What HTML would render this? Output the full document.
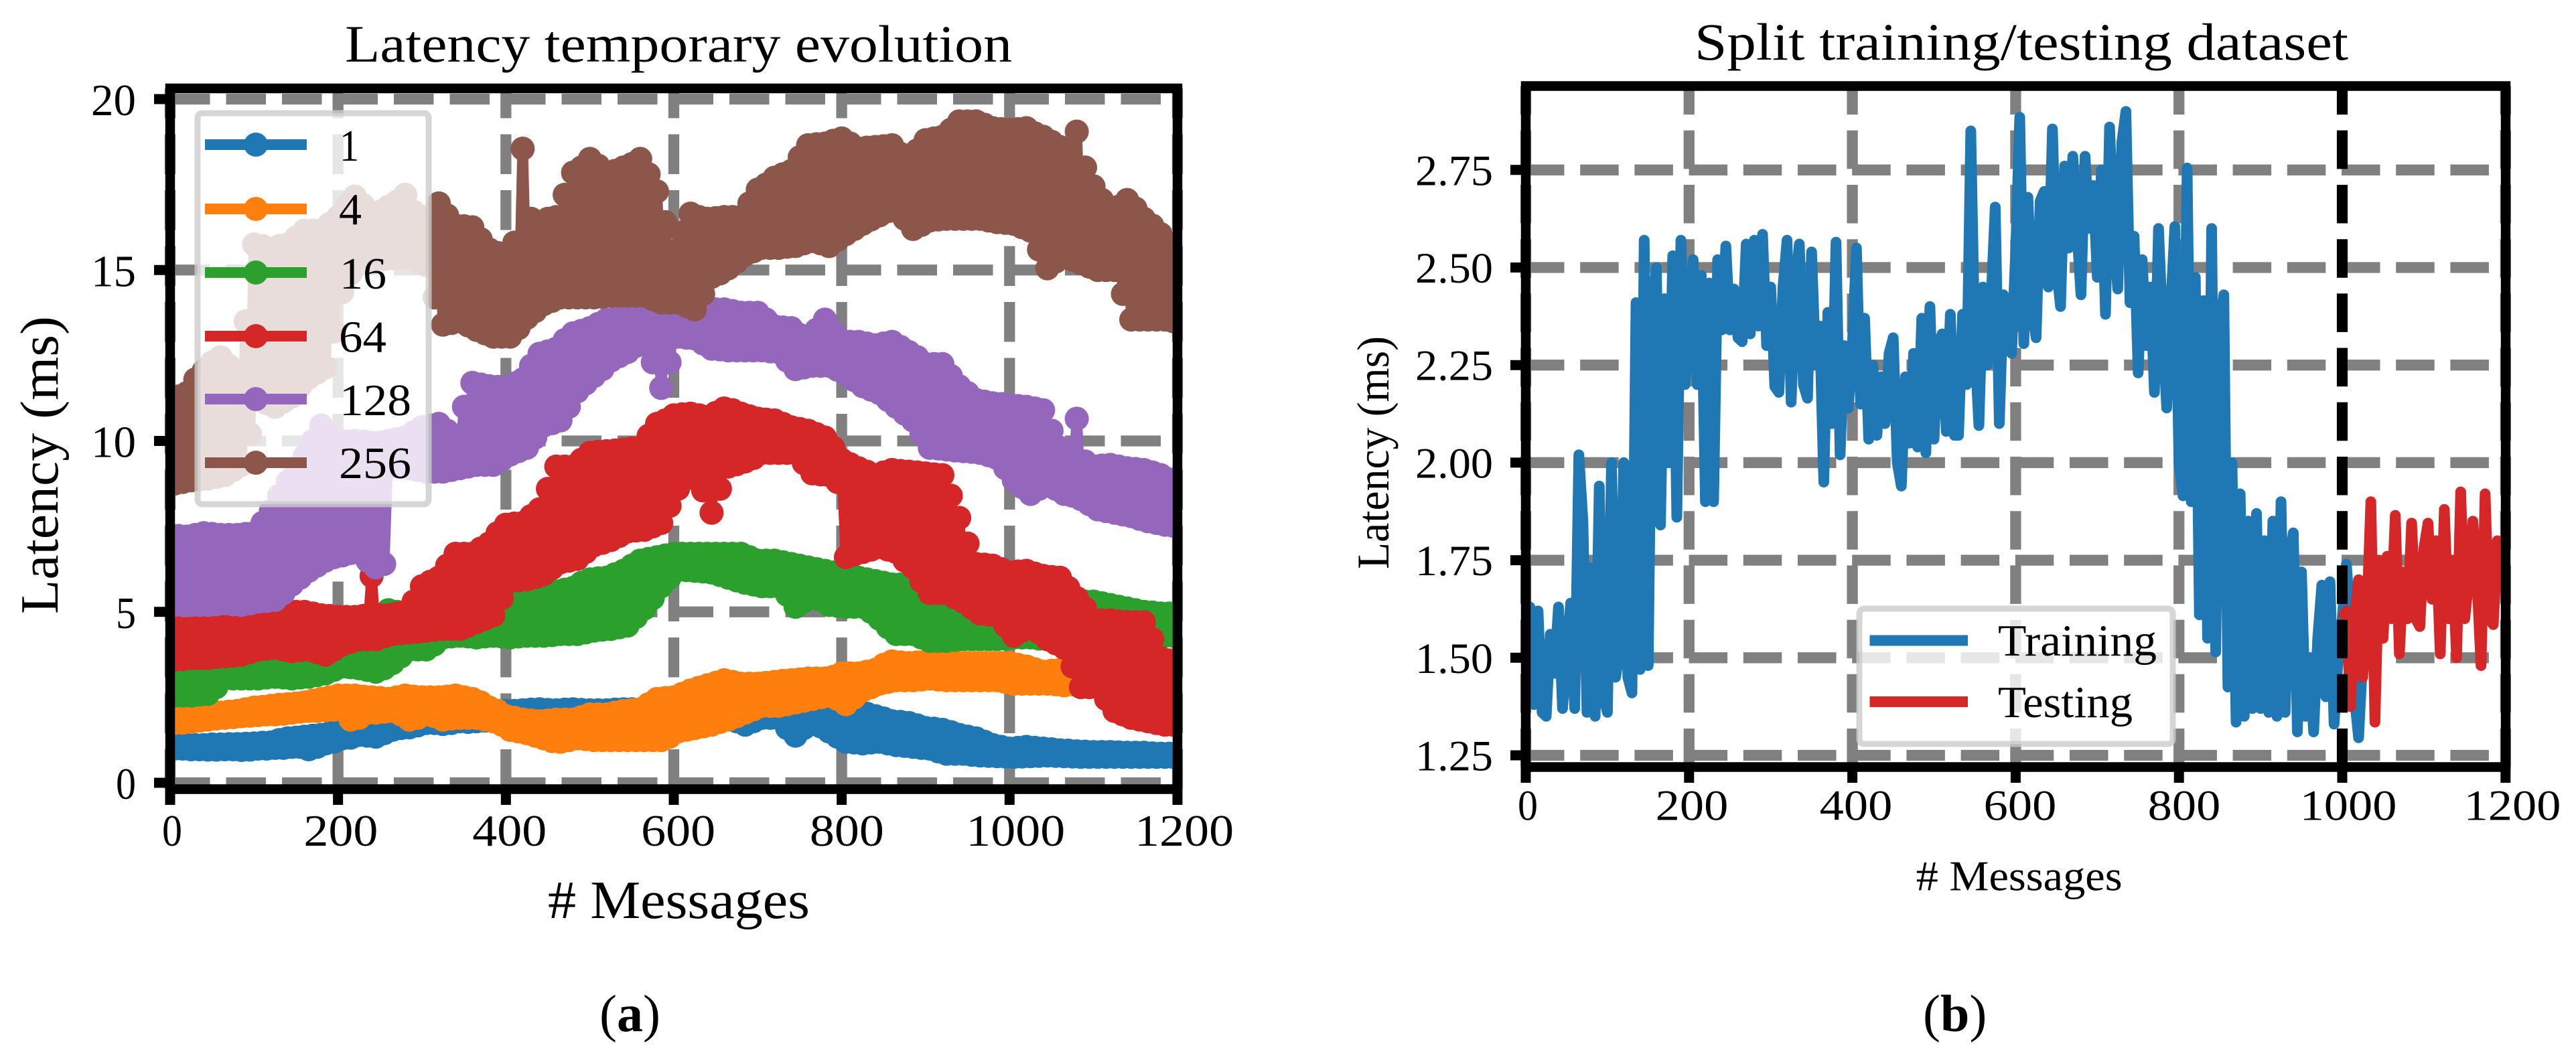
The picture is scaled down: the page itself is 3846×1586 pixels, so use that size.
<!DOCTYPE html>
<html lang="en">
<head>
<meta charset="utf-8">
<title>Latency charts</title>
<style>
html,body{margin:0;padding:0;background:#fff}
svg{display:block}
text{font-family:"Liberation Serif","DejaVu Serif",serif;fill:#000}
</style>
</head>
<body>
<svg id="fig" xmlns="http://www.w3.org/2000/svg" width="3846" height="1586" viewBox="0 0 3846 1586">
  <defs>
    <clipPath id="clipA"><rect x="254" y="132" width="1504" height="1046.5"/></clipPath>
    <clipPath id="clipB"><rect x="2278" y="128.5" width="1463" height="1017"/></clipPath>
  </defs>
  <rect width="3846" height="1586" fill="#fff"/>

  <g id="chartA">
    <g id="gridA"></g>
    <g id="seriesA" clip-path="url(#clipA)"></g>
    <g id="legendA">
      <rect x="295" y="169" width="345" height="584" rx="7" fill="#fff" fill-opacity=".8" stroke="#ccc" stroke-opacity=".8" stroke-width="9"/>
      <g><line x1="306" x2="458" y1="216" y2="216" stroke="#1f77b4" stroke-width="16"/><circle cx="382" cy="216" r="18" fill="#1f77b4"/><text x="507" y="240" font-size="67" textLength="29" lengthAdjust="spacingAndGlyphs">1</text></g>
      <g><line x1="306" x2="458" y1="312" y2="312" stroke="#ff7f0e" stroke-width="16"/><circle cx="382" cy="312" r="18" fill="#ff7f0e"/><text x="506" y="335" font-size="67" textLength="34" lengthAdjust="spacingAndGlyphs">4</text></g>
      <g><line x1="306" x2="458" y1="407" y2="407" stroke="#2ca02c" stroke-width="16"/><circle cx="382" cy="407" r="18" fill="#2ca02c"/><text x="507" y="431" font-size="67" textLength="70" lengthAdjust="spacingAndGlyphs">16</text></g>
      <g><line x1="306" x2="458" y1="502" y2="502" stroke="#d62728" stroke-width="16"/><circle cx="382" cy="502" r="18" fill="#d62728"/><text x="506" y="525.5" font-size="67" textLength="71" lengthAdjust="spacingAndGlyphs">64</text></g>
      <g><line x1="306" x2="458" y1="596" y2="596" stroke="#9467bd" stroke-width="16"/><circle cx="382" cy="596" r="18" fill="#9467bd"/><text x="507" y="620" font-size="67" textLength="107" lengthAdjust="spacingAndGlyphs">128</text></g>
      <g><line x1="306" x2="458" y1="691" y2="691" stroke="#8c564b" stroke-width="16"/><circle cx="382" cy="691" r="18" fill="#8c564b"/><text x="506" y="714" font-size="67" textLength="108" lengthAdjust="spacingAndGlyphs">256</text></g>
    </g>
    <rect x="254" y="132" width="1504" height="1046.5" fill="none" stroke="#000" stroke-width="14.5"/>
    <g id="axesA"></g>
    <text x="515" y="92" font-size="78" textLength="996" lengthAdjust="spacingAndGlyphs">Latency temporary evolution</text>
    <text transform="translate(86,917) rotate(-90)" font-size="80" textLength="445" lengthAdjust="spacingAndGlyphs">Latency (ms)</text>
    <text x="818" y="1371" font-size="80" textLength="391" lengthAdjust="spacingAndGlyphs"># Messages</text>
    <text x="895" y="1540" font-size="78">(<tspan font-weight="bold">a</tspan>)</text>
  </g>

  <g id="chartB">
    <g id="gridB"></g>
    <g id="seriesB" clip-path="url(#clipB)"></g>
    <g id="legendB">
      <rect x="2776" y="909" width="468" height="202" rx="7" fill="#fff" fill-opacity=".8" stroke="#ccc" stroke-opacity=".8" stroke-width="9"/>
      <g><line x1="2791.5" x2="2938" y1="956.5" y2="956.5" stroke="#1f77b4" stroke-width="16"/><text x="2983" y="979" font-size="67" textLength="237" lengthAdjust="spacingAndGlyphs">Training</text></g>
      <g><line x1="2791.5" x2="2938" y1="1048" y2="1048" stroke="#d62728" stroke-width="16"/><text x="2983" y="1071" font-size="67" textLength="201" lengthAdjust="spacingAndGlyphs">Testing</text></g>
    </g>
    <rect x="2278" y="128.5" width="1463" height="1017" fill="none" stroke="#000" stroke-width="14.5"/>
    <g id="axesB"></g>
    <text x="2530" y="89" font-size="78" textLength="976" lengthAdjust="spacingAndGlyphs">Split training/testing dataset</text>
    <text transform="translate(2073,850) rotate(-90)" font-size="68" textLength="348" lengthAdjust="spacingAndGlyphs">Latency (ms)</text>
    <text x="2860.6" y="1329.6" font-size="64" textLength="308" lengthAdjust="spacingAndGlyphs"># Messages</text>
    <text x="2871" y="1540" font-size="78">(<tspan font-weight="bold">b</tspan>)</text>
  </g>
</svg>

<script>
// ---- Chart A data ----
const stepA = 5;
const xTicksA = [0, 200, 400, 600, 800, 1000, 1200];
const yTicksA = [0, 5, 10, 15, 20];
const latency1 = [1.1,1.0,1.12,1.0,1.12,0.98,1.1,0.98,1.1,0.97,1.12,0.97,1.12,0.98,1.13,0.98,1.13,0.96,1.14,0.97,
1.15,1.0,1.17,1.0,1.18,1.02,1.25,1.02,1.3,1.05,1.32,1.05,1.35,0.98,1.38,1.05,1.4,1.15,1.45,1.2,
1.5,1.3,1.52,1.32,1.55,1.4,1.6,1.38,1.65,1.35,1.72,1.45,1.8,1.55,1.85,1.6,1.9,1.62,1.95,1.68,
2.0,1.75,2.0,1.75,2.0,1.72,2.02,1.75,2.05,1.8,2.05,1.78,2.05,1.8,2.08,1.82,2.1,1.8,2.1,1.82,
2.1,1.85,2.1,1.85,2.12,1.85,2.14,1.85,2.15,1.85,2.13,1.85,2.12,1.85,2.14,1.85,2.15,1.85,2.13,1.85,
2.12,1.85,2.12,1.85,2.12,1.85,2.14,1.88,2.15,1.9,2.15,1.9,2.15,1.9,2.15,1.9,2.15,1.9,2.15,1.9,
2.15,1.9,2.14,1.9,2.12,1.9,2.11,1.9,2.1,1.9,2.08,1.9,2.05,1.9,2.05,1.8,2.05,1.7,2.05,1.8,
2.05,1.9,2.05,1.9,2.05,1.9,2.02,1.6,2.0,1.38,2.02,1.6,2.05,1.75,2.08,1.65,2.1,1.5,2.1,1.35,
2.1,1.2,2.1,1.18,2.1,1.15,2.02,1.18,1.95,1.2,1.88,1.15,1.8,1.1,1.78,1.08,1.75,1.05,1.68,1.02,
1.6,1.0,1.58,0.92,1.55,0.85,1.48,0.85,1.4,0.85,1.35,0.82,1.3,0.8,1.2,0.79,1.1,0.78,1.05,0.77,
1.0,0.76,1.02,0.77,1.05,0.78,1.02,0.79,1.0,0.8,0.98,0.79,0.95,0.78,0.94,0.77,0.92,0.76,0.91,0.76,
0.9,0.76,0.9,0.76,0.9,0.76,0.89,0.76,0.88,0.76,0.88,0.76,0.88,0.76,0.86,0.76,0.85,0.76,0.85,0.76,0.85];
const latency4 = [1.9,1.75,1.92,1.76,1.95,1.78,1.98,1.82,2.0,1.85,2.02,1.88,2.05,1.9,2.08,1.92,2.1,1.95,2.15,1.96,
2.2,1.98,2.22,2.0,2.25,2.0,2.28,2.02,2.3,2.05,2.32,2.08,2.35,2.1,2.4,2.1,2.45,2.12,2.5,2.14,
2.55,2.15,2.55,1.85,2.55,1.9,2.52,2.05,2.5,2.05,2.48,2.08,2.45,2.1,2.5,2.0,2.55,1.85,2.52,1.9,
2.5,2.0,2.5,1.95,2.5,1.85,2.52,1.88,2.55,1.9,2.5,1.9,2.45,1.9,2.35,1.85,2.2,1.8,2.1,1.7,
1.95,1.55,1.9,1.5,1.85,1.45,1.82,1.38,1.8,1.3,1.82,1.22,1.85,1.2,1.85,1.25,1.85,1.3,1.92,1.28,
2.0,1.25,2.0,1.25,2.0,1.25,2.05,1.25,2.1,1.25,2.12,1.25,2.15,1.25,2.3,1.25,2.45,1.25,2.48,1.35,
2.5,1.5,2.6,1.55,2.7,1.6,2.78,1.65,2.85,1.7,2.92,1.78,3.0,1.85,2.95,1.95,2.9,2.05,2.9,2.15,
2.9,2.25,2.92,2.25,2.95,2.25,2.98,2.3,3.0,2.35,3.02,2.4,3.05,2.45,3.05,2.5,3.05,2.55,3.1,2.45,
3.2,2.3,3.2,2.5,3.2,2.7,3.25,2.8,3.3,2.9,3.45,2.95,3.55,3.0,3.52,3.0,3.5,3.0,3.52,3.02,
3.55,3.05,3.52,3.02,3.5,3.0,3.5,3.0,3.5,3.0,3.5,3.0,3.5,3.0,3.5,3.0,3.5,3.0,3.5,2.95,
3.5,2.9,3.45,2.9,3.4,2.9,3.32,2.9,3.25,2.9,3.28,2.88,3.3,2.85,3.25,2.88,3.2,2.9,3.15,2.9,
3.1,2.9,3.1,2.9,3.1,2.9,3.08,2.9,3.05,2.9,3.02,2.9,3.0,2.9,3.0,2.9,3.0,2.9,3.0,2.9,3.0];
const latency16 = [3.6,2.55,3.55,2.55,3.5,2.55,3.5,2.58,3.5,2.6,3.55,2.8,3.6,3.05,3.6,3.05,3.6,3.05,3.65,3.05,
3.7,3.05,3.75,3.08,3.8,3.1,3.85,3.08,3.9,3.05,3.9,3.08,3.9,3.1,3.95,3.15,4.0,3.2,4.0,3.3,
4.0,3.4,4.1,3.38,4.2,3.35,4.25,3.3,4.3,3.25,4.9,3.35,5.05,3.5,5.0,3.7,4.9,3.9,4.9,3.9,
4.9,3.9,4.9,4.05,4.9,4.25,4.95,4.28,5.0,4.3,5.0,4.28,5.0,4.25,5.05,4.28,5.1,4.3,5.2,4.28,
5.35,4.25,5.38,4.28,5.4,4.3,5.45,4.3,5.5,4.3,5.55,4.32,5.6,4.35,5.65,4.35,5.7,4.35,5.85,4.4,
5.95,4.45,5.98,4.48,6.0,4.5,6.1,4.55,6.2,4.6,6.35,4.85,6.5,5.1,6.55,5.4,6.6,5.75,6.65,6.0,
6.7,6.25,6.7,6.22,6.7,6.2,6.7,6.18,6.7,6.15,6.7,6.08,6.7,6.0,6.7,5.92,6.7,5.85,6.6,5.8,
6.5,5.75,6.5,5.75,6.5,5.75,6.45,5.5,6.4,5.15,6.35,5.3,6.3,5.5,6.25,5.35,6.2,5.2,6.15,5.18,
6.1,5.15,6.05,5.15,6.0,5.15,5.95,5.0,5.9,4.8,5.85,4.55,5.8,4.35,5.8,4.35,5.8,4.35,5.7,4.25,
5.6,4.15,5.55,4.15,5.5,4.15,5.45,4.18,5.4,4.2,5.35,4.2,5.3,4.2,5.25,4.2,5.2,4.2,5.2,4.22,
5.2,4.25,5.25,4.25,5.3,4.25,5.3,4.22,5.3,4.2,5.3,4.22,5.3,4.25,5.3,4.28,5.3,4.3,5.3,4.3,
5.3,4.3,5.25,4.3,5.2,4.3,5.15,4.3,5.1,4.3,5.05,4.3,5.0,4.3,4.98,4.3,4.95,4.3,4.95,4.3,4.95];
const latency64 = [4.55,3.6,4.52,3.62,4.5,3.65,4.55,3.65,4.6,3.65,4.62,3.68,4.65,3.7,4.68,3.72,4.7,3.75,4.75,3.82,
4.8,3.9,4.82,3.92,4.85,3.95,4.92,3.9,5.0,3.85,5.0,3.88,5.0,3.9,4.95,3.82,4.9,3.75,4.88,3.9,
4.85,4.05,4.85,4.12,4.85,4.2,4.88,4.2,6.05,4.2,4.9,4.28,4.9,4.35,4.95,4.38,5.0,4.4,5.3,4.42,
5.75,4.45,5.88,4.48,6.0,4.5,6.35,4.5,6.7,4.5,6.7,4.6,6.7,4.7,6.85,4.8,7.0,4.9,7.3,5.4,
7.55,5.9,7.58,5.92,7.6,5.95,7.8,6.02,8.0,6.1,8.6,6.28,9.25,6.45,9.25,6.5,9.25,6.55,9.45,6.75,
9.65,6.95,9.68,7.02,9.7,7.1,9.72,7.22,9.75,7.35,9.78,7.38,9.8,7.4,10.15,7.5,10.5,7.6,10.6,8.1,
10.75,8.6,10.78,8.9,10.8,9.2,10.75,8.55,10.7,7.9,10.82,8.6,10.95,9.25,10.9,9.32,10.8,9.4,10.72,9.5,
10.65,9.65,10.62,9.65,10.6,9.65,10.5,9.65,10.4,9.65,10.35,9.35,10.3,9.05,10.2,9.02,10.1,9.0,9.8,8.8,
9.45,6.6,9.32,6.68,9.2,6.75,9.1,6.82,9.0,6.9,9.08,6.82,9.15,6.75,9.12,6.5,9.1,6.3,9.08,5.9,
9.05,5.55,9.02,5.55,9.0,5.55,8.4,5.42,7.75,5.3,7.0,5.12,6.4,4.95,6.38,4.92,6.35,4.9,6.25,4.6,
6.15,4.3,6.18,4.45,6.2,4.6,6.12,4.4,6.05,4.2,6.02,4.08,6.0,3.95,5.7,3.4,5.4,2.8,5.1,2.8,
4.75,2.8,4.75,2.45,4.75,2.1,4.72,2.0,4.7,1.9,4.7,1.85,4.7,1.8,4.2,1.75,3.65,1.7,3.58,1.7,3.5];
const latency128 = [7.25,5.2,7.22,5.2,7.2,5.2,7.25,5.2,7.3,5.2,7.28,5.22,7.25,5.25,7.25,5.22,7.25,5.2,7.28,5.25,
7.3,5.3,7.6,5.32,7.95,5.35,8.4,5.55,8.8,5.8,9.2,6.0,9.55,6.2,10.0,6.35,10.45,6.5,10.2,6.6,
9.95,6.65,9.98,6.72,10.0,6.8,9.98,6.5,9.95,6.3,9.95,6.4,10.0,9.25,10.05,9.22,10.1,9.2,10.25,9.15,
10.4,9.1,10.45,9.1,10.5,9.1,10.3,9.15,10.15,9.2,11.0,9.25,11.7,9.3,11.65,9.3,11.6,9.3,11.58,9.45,
11.55,9.6,11.68,9.7,11.8,9.8,12.2,10.1,12.55,10.45,12.62,10.52,12.7,10.6,12.95,11.0,13.15,11.45,13.22,11.68,
13.3,11.9,13.42,12.1,13.55,12.35,13.58,12.48,13.6,12.6,13.62,12.78,13.65,12.95,13.7,12.3,13.75,11.55,13.6,12.3,
13.45,13.05,13.58,13.02,13.7,13.0,13.78,12.85,13.85,12.7,13.85,12.68,13.85,12.65,13.8,12.65,13.75,12.65,13.75,12.65,
13.75,12.65,13.55,12.62,13.35,12.6,13.32,12.35,13.3,12.1,13.1,12.15,12.95,12.2,13.25,12.2,13.55,12.2,13.2,12.08,
12.9,11.95,12.9,11.78,12.9,11.6,12.85,11.5,12.8,11.4,12.85,11.2,12.9,11.0,12.75,10.8,12.6,10.6,12.45,10.2,
12.25,9.8,12.25,9.78,12.25,9.75,11.9,9.72,11.6,9.7,11.4,9.68,11.2,9.65,11.15,9.58,11.1,9.5,11.08,9.2,
11.05,8.85,11.02,8.65,11.0,8.45,10.95,8.6,10.9,8.75,10.3,8.6,9.8,8.45,9.6,8.4,10.65,8.3,9.4,8.15,
9.25,8.0,9.28,7.95,9.3,7.9,9.25,7.85,9.2,7.8,9.18,7.72,9.15,7.65,9.08,7.6,9.0,7.55,8.88,7.52,8.75];
const latency256 = [11.15,8.75,11.3,8.8,11.4,8.85,11.8,8.88,12.05,8.9,12.3,8.95,12.45,9.0,12.2,9.15,11.9,9.3,13.5,10.2,
15.75,11.25,15.7,11.1,15.6,11.0,15.7,11.15,15.75,11.3,15.95,11.6,16.15,11.85,16.15,12.0,16.15,12.15,16.35,13.2,
16.55,14.35,16.85,14.9,17.15,15.45,16.9,15.4,16.6,15.3,16.7,15.32,16.85,15.35,17.0,15.35,17.2,15.35,16.7,15.25,
16.25,15.15,16.6,14.2,16.95,13.4,16.6,13.45,16.3,13.5,16.28,13.38,16.25,13.25,15.9,13.15,15.6,13.05,15.5,13.05,
15.35,13.05,15.8,13.3,18.55,13.6,16.5,13.8,16.4,14.0,16.5,14.1,16.55,14.2,17.2,14.2,17.85,14.2,18.0,14.2,
18.25,14.2,18.05,14.22,17.85,14.25,17.9,14.25,18.0,14.25,18.1,14.25,18.25,14.25,17.8,14.15,17.3,14.05,16.4,14.05,
15.55,14.05,16.1,13.95,16.65,13.85,16.55,14.3,16.5,14.8,16.52,14.9,16.55,15.05,16.55,15.25,16.55,15.45,16.95,15.55,
17.35,15.65,17.5,15.65,17.7,15.65,17.8,15.68,17.9,15.7,18.3,15.78,18.65,15.85,18.68,15.78,18.7,15.7,18.78,15.88,
18.85,16.05,18.7,16.2,18.55,16.35,18.58,16.48,18.6,16.6,18.62,16.72,18.65,16.85,18.4,16.5,18.15,16.2,18.5,16.32,
18.8,16.45,18.85,16.48,18.9,16.5,19.1,16.5,19.35,16.5,19.35,16.5,19.35,16.5,19.25,16.45,19.15,16.4,19.12,16.38,
19.1,16.35,19.12,16.25,19.15,16.15,19.0,15.6,18.9,15.05,18.75,15.25,18.6,15.45,18.2,15.3,19.05,15.2,18.0,15.1,
17.45,15.0,17.05,15.0,16.65,15.0,16.85,14.3,17.05,13.55,16.8,13.55,16.5,13.55,16.3,13.55,16.05,13.55,15.65,13.5,15.25];
const seriesNamesA = ['1', '4', '16', '64', '128', '256'];
const seriesColorsA = ['#1f77b4', '#ff7f0e', '#2ca02c', '#d62728', '#9467bd', '#8c564b'];

// ---- Chart B data ----
const stepB = 5;
const testStart = 1000;
const splitAt = 1000;
const xTicksB = [0, 200, 400, 600, 800, 1000, 1200];
const yTicksB = [1.25, 1.5, 1.75, 2.0, 2.25, 2.5, 2.75];
const training = [1.40,1.63,1.38,1.62,1.36,1.35,1.56,1.46,1.63,1.37,
1.5,1.64,1.37,2.02,1.85,1.36,1.73,1.35,1.94,1.4,
1.36,2.0,1.45,1.52,2.0,1.45,1.41,2.41,1.47,2.57,
1.48,2.4,2.5,1.84,2.42,2.0,2.53,1.86,2.57,2.2,
2.35,2.52,2.2,2.48,1.9,2.46,1.9,2.52,2.34,2.555,
2.34,2.445,2.32,2.31,2.56,2.33,2.57,2.35,2.585,2.3,
2.45,2.195,2.18,2.45,2.57,2.155,2.45,2.56,2.2,2.165,
2.54,2.25,2.35,1.95,2.385,2.1,2.565,2.02,2.3,2.14,
2.3,2.55,2.15,2.37,2.06,2.25,2.07,2.22,2.1,2.28,
2.32,2.0,1.94,2.22,2.05,2.28,2.04,2.37,2.025,2.4,
2.06,2.3,2.33,2.08,2.38,2.07,2.07,2.38,2.2,2.85,
2.3,2.095,2.45,2.25,2.42,2.655,2.1,2.43,2.3,2.28,
2.54,2.885,2.305,2.68,2.4,2.32,2.67,2.695,2.45,2.855,
2.5,2.4,2.76,2.55,2.785,2.6,2.43,2.785,2.6,2.71,
2.475,2.75,2.38,2.86,2.6,2.445,2.82,2.9,2.41,2.58,
2.23,2.52,2.3,2.45,2.18,2.6,2.35,2.14,2.4,2.605,
2.0,1.915,2.755,1.9,2.475,1.61,2.415,1.55,2.6,1.515,
2.35,2.43,1.425,2.0,1.335,1.92,1.35,1.85,1.37,1.87,
1.37,1.8,1.36,1.85,1.35,1.9,1.36,1.75,1.82,1.31,
1.72,1.35,1.5,1.31,1.55,1.686,1.4,1.695,1.33,1.5,
1.6,1.74,1.6,1.4,1.295,1.5];
const testing = [1.6,1.62,1.375,1.6,1.7,1.45,1.6,1.9,1.335,1.75,
1.55,1.76,1.6,1.865,1.51,1.72,1.6,1.845,1.6,1.58,
1.78,1.845,1.65,1.8,1.51,1.88,1.6,1.75,1.5,1.925,
1.6,1.7,1.85,1.7,1.48,1.92,1.6,1.585,1.8,1.68,1.795];

const SVGNS = 'http://www.w3.org/2000/svg';
function make(tag, parent) {
  const el = document.createElementNS(SVGNS, tag);
  parent.appendChild(el);
  return el;
}
function polyPoints(values, start, step, xf, yf) {
  return values.map((v, i) => xf(start + i * step).toFixed(1) + ',' + yf(v).toFixed(1)).join(' ');
}

// ---- Axis functions ----
const xA = v => 254 + 1.2533 * v;
const yA = v => 1169 - 51.05 * v;
const xB = v => 2278 + 1.219 * v;
const yB = v => 1128 - 582.8 * (v - 1.25);

function drawAxes(cfg) {
  const grid = document.getElementById(cfg.gridId);
  const axes = document.getElementById(cfg.axesId);
  cfg.yTicks.forEach(t => {
    const g = make('line', grid);
    
    
    g.setAttribute('x1', cfg.left); g.setAttribute('x2', cfg.right);
    g.setAttribute('y1', cfg.y(t)); g.setAttribute('y2', cfg.y(t));
    g.setAttribute('stroke', '#808080'); g.setAttribute('stroke-width', 16.3);
    g.setAttribute('stroke-dasharray', cfg.dash);
    const m = make('line', axes);
    
    
    m.setAttribute('x1', cfg.left - cfg.tickLenY); m.setAttribute('x2', cfg.left);
    m.setAttribute('y1', cfg.y(t)); m.setAttribute('y2', cfg.y(t));
    m.setAttribute('stroke', '#000'); m.setAttribute('stroke-width', 15);
    const l = make('text', axes);
    
    
    const s = cfg.yFormat(t);
    l.textContent = s;
    l.setAttribute('text-anchor', 'end');
    l.setAttribute('x', cfg.yLabelRight);
    l.setAttribute('y', cfg.y(t) + cfg.yLabelDy);
    l.setAttribute('font-size', cfg.fontSize);
    l.setAttribute('textLength', cfg.yLabelWidth(s));
    l.setAttribute('lengthAdjust', 'spacingAndGlyphs');
  });
  cfg.xTicks.forEach(t => {
    const g = make('line', grid);
    
    
    g.setAttribute('x1', cfg.x(t)); g.setAttribute('x2', cfg.x(t));
    g.setAttribute('y1', cfg.bottom); g.setAttribute('y2', cfg.top);
    g.setAttribute('stroke', '#808080'); g.setAttribute('stroke-width', 16.3);
    g.setAttribute('stroke-dasharray', cfg.dash);
    const m = make('line', axes);
    
    
    m.setAttribute('x1', cfg.x(t)); m.setAttribute('x2', cfg.x(t));
    m.setAttribute('y1', cfg.bottom); m.setAttribute('y2', cfg.bottom + cfg.tickLenX);
    m.setAttribute('stroke', '#000'); m.setAttribute('stroke-width', 15);
    const l = make('text', axes);
    
    
    const s = String(t);
    l.textContent = s;
    l.setAttribute('text-anchor', 'middle');
    l.setAttribute('x', cfg.x(t) + 3 + t * 0.006);
    l.setAttribute('y', cfg.xLabelY);
    l.setAttribute('font-size', cfg.fontSize);
    l.setAttribute('textLength', s.length === 1 ? 30 : s.length * cfg.xDigit);
    l.setAttribute('lengthAdjust', 'spacingAndGlyphs');
  });
}

drawAxes({
  gridId: 'gridA', axesId: 'axesA', x: xA, y: yA, xTicks: xTicksA, yTicks: yTicksA,
  left: 254, right: 1758, top: 132, bottom: 1178.5, dash: '59.5 24', tickLenX: 23.5, tickLenY: 24,
  yFormat: t => String(t), yLabelRight: 203, yLabelDy: 24, fontSize: 67,
  yLabelWidth: s => s.length === 1 ? 30 : 67, xLabelY: 1263, xDigit: 37
});
drawAxes({
  gridId: 'gridB', axesId: 'axesB', x: xB, y: yB, xTicks: xTicksB, yTicks: yTicksB,
  left: 2278, right: 3741, top: 128.5, bottom: 1145.5, dash: '57.5 23.7', tickLenX: 23.5, tickLenY: 23,
  yFormat: t => t.toFixed(2), yLabelRight: 2229, yLabelDy: 22.5, fontSize: 65,
  yLabelWidth: () => 116, xLabelY: 1224.5, xDigit: 36.2
});

// ---- Chart A series ----
const rootA = document.getElementById('seriesA');
[latency1, latency4, latency16, latency64, latency128, latency256].forEach((vals, k) => {
  const g = make('g', rootA);
  
  
  g.setAttribute('fill', seriesColorsA[k]);
  const line = make('polyline', g);
  
  
  line.setAttribute('points', polyPoints(vals, 0, stepA, xA, yA));
  line.setAttribute('fill', 'none');
  line.setAttribute('stroke', seriesColorsA[k]);
  line.setAttribute('stroke-width', 16);
  line.setAttribute('stroke-linejoin', 'round');
  vals.forEach((v, i) => {
    const c = make('circle', g);
    
    
    c.setAttribute('cx', xA(i * stepA).toFixed(1));
    c.setAttribute('cy', yA(v).toFixed(1));
    c.setAttribute('r', 18);
  });
});

// ---- Chart B series ----
const rootB = document.getElementById('seriesB');
const trainLine = make('polyline', rootB);


trainLine.setAttribute('points', polyPoints(training, 0, stepB, xB, yB));
trainLine.setAttribute('fill', 'none');
trainLine.setAttribute('stroke', '#1f77b4');
trainLine.setAttribute('stroke-width', 16);
trainLine.setAttribute('stroke-linejoin', 'round');
trainLine.setAttribute('stroke-linecap', 'round');
const testLine = make('polyline', rootB);


testLine.setAttribute('points', polyPoints(testing, testStart, stepB, xB, yB));
testLine.setAttribute('fill', 'none');
testLine.setAttribute('stroke', '#d62728');
testLine.setAttribute('stroke-width', 16);
testLine.setAttribute('stroke-linejoin', 'round');
const split = make('line', rootB);


split.setAttribute('x1', xB(splitAt));
split.setAttribute('x2', xB(splitAt));
split.setAttribute('y1', 1145.5);
split.setAttribute('y2', 128.5);
split.setAttribute('stroke', '#000');
split.setAttribute('stroke-width', 16);
split.setAttribute('stroke-dasharray', '57.5 23.7');
</script>
</body>
</html>
